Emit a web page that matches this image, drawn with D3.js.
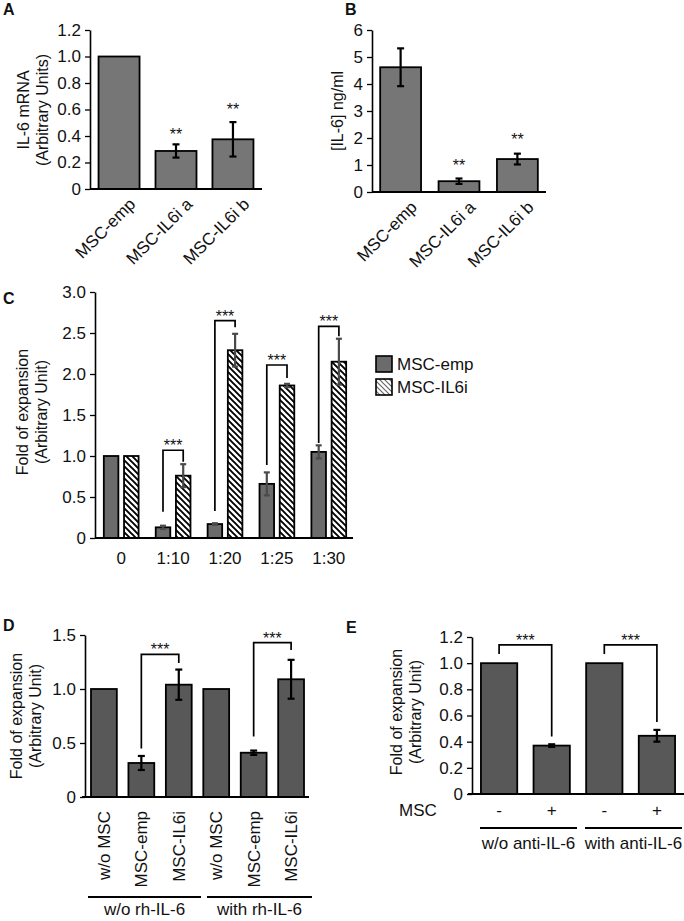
<!DOCTYPE html>
<html><head><meta charset="utf-8">
<script src="https://cdn.jsdelivr.net/npm/d3@7"></script>
<style>
body{margin:0;background:#fff;}
text{font-family:"Liberation Sans",Arial,sans-serif;fill:#111;}
</style></head><body>
<svg id="c" width="684" height="921"></svg>
<script>
// ---------- DATA ----------
// Panel A
const aCats = ["MSC-emp","MSC-IL6i a","MSC-IL6i b"];
const aVals = [1.0, 0.287, 0.375];
const aErr  = [0.0, 0.05, 0.13];
const aStars = [null, 0.43, 0.62];
const aTicks = [0,0.2,0.4,0.6,0.8,1.0,1.2];
// Panel B
const bCats = ["MSC-emp","MSC-IL6i a","MSC-IL6i b"];
const bVals = [4.62, 0.40, 1.22];
const bErr  = [0.70, 0.10, 0.20];
const bStars = [null, 1.07, 2.04];
const bTicks = [0,1,2,3,4,5,6];
// Panel C
const cGroups = ["0","1:10","1:20","1:25","1:30"];
const cSeries = ["MSC-emp","MSC-IL6i"];
const cEmp    = [1.0, 0.13, 0.17, 0.66, 1.05];
const cEmpErr = [0.0, 0.02, 0.01, 0.14, 0.08];
const cIL6    = [1.0, 0.76, 2.29, 1.86, 2.15];
const cIL6Err = [0.0, 0.14, 0.20, 0.02, 0.28];
const cTicks = [0,0.5,1.0,1.5,2.0,2.5,3.0];
// brackets: group, top, left-leg end, right-leg end
const cBrGroup = ["1:10","1:20","1:25","1:30"];
const cBrTop   = [1.07, 2.65, 2.11, 2.58];
const cBrLeft  = [0.32, 0.33, 0.89, 1.16];
const cBrRight = [0.93, 2.57, 1.95, 2.46];
// Panel D
const dCats = ["w/o MSC","MSC-emp","MSC-IL6i","w/o MSC ","MSC-emp ","MSC-IL6i "];
const dVals = [1.0, 0.315, 1.04, 1.0, 0.41, 1.09];
const dErr  = [0.0, 0.065, 0.14, 0.0, 0.02, 0.18];
const dTicks = [0,0.5,1.0,1.5];
const dGroupLabels = ["w/o rh-IL-6","with rh-IL-6"];
const dBrFrom = [1,4], dBrTo = [2,5];
const dBrTop = [1.32,1.43], dBrLeft=[0.45,0.56], dBrRight=[1.24,1.36];
// Panel E
const eCats = ["-","+","- ","+ "];
const eVals = [1.0, 0.37, 1.0, 0.445];
const eErr  = [0.0, 0.01, 0.0, 0.045];
const eTicks = [0,0.2,0.4,0.6,0.8,1.0,1.2];
const eGroupLabels = ["w/o anti-IL-6","with anti-IL-6"];
const eBrFrom=[0,2], eBrTo=[1,3];
const eBrTop=[1.14,1.14], eBrLeft=[1.07,1.07], eBrRight=[0.44,0.55];

// ---------- DRAW ----------
const svg = d3.select("#c");
const defs = svg.append("defs");
defs.append("pattern").attr("id","hatch").attr("patternUnits","userSpaceOnUse")
  .attr("width",6).attr("height",6)
  .append("path").attr("d","M-1,-1L7,7M-1,5L1,7M5,-1L7,1")
  .attr("stroke","#000").attr("stroke-width",1.9);
defs.append("pattern").attr("id","hatchL").attr("patternUnits","userSpaceOnUse")
  .attr("width",5).attr("height",5)
  .append("path").attr("d","M-1,-1L6,6M-1,4L1,6M4,-1L6,1")
  .attr("stroke","#666").attr("stroke-width",1.2);

const TF = 17;   // tick font
const LF = 17;   // label font
const TT = 16;   // axis title font
const SF = 16;   // asterisk font

function fmt1(v){return v===0?"0":d3.format(".1f")(v);}

function yAxis(g, y, ticks, fmt, fs){
  const ax = d3.axisLeft(y).tickValues(ticks).tickFormat(fmt).tickSize(5).tickSizeOuter(0).tickPadding(4);
  g.call(ax);
  g.select(".domain").attr("stroke","#000").attr("stroke-width",1.6);
  g.selectAll(".tick line").attr("stroke","#000").attr("stroke-width",1.3);
  g.selectAll(".tick text").style("font-size",fs+"px").style("font-family","Liberation Sans, Arial, sans-serif").attr("fill","#111");
}
function xLine(x0,x1,y){
  svg.append("line").attr("x1",x0).attr("x2",x1).attr("y1",y).attr("y2",y).attr("stroke","#000").attr("stroke-width",2);
}
function errBars(g, xs, vals, errs, y, color, cap){
  vals.forEach((v,i)=>{
    if(!errs[i]) return;
    const cx = xs[i], t=y(v+errs[i]), b=y(v-errs[i]);
    g.append("line").attr("x1",cx).attr("x2",cx).attr("y1",t).attr("y2",b).attr("stroke",color).attr("stroke-width",2.2);
    [t,b].forEach(yy=>g.append("line").attr("x1",cx-cap).attr("x2",cx+cap).attr("y1",yy).attr("y2",yy).attr("stroke",color).attr("stroke-width",2.2));
  });
}
function bracket(x1,x2,yTop,yL,yR,label,fs){
  svg.append("path").attr("d",`M${x1},${yL}V${yTop}H${x2}V${yR}`).attr("fill","none").attr("stroke","#000").attr("stroke-width",1.7);
  svg.append("text").attr("x",(x1+x2)/2).attr("y",yTop+1).attr("text-anchor","middle").style("font-size",fs+"px").text(label);
}
function title2(x,y,l1,l2,fs,gap){
  const t = svg.append("text").attr("transform",`translate(${x},${y}) rotate(-90)`).attr("text-anchor","middle").style("font-size",fs+"px");
  t.append("tspan").attr("x",0).attr("dy",0).text(l1);
  if(l2) t.append("tspan").attr("x",0).attr("dy",gap).text(l2);
}
function letter(x,y,s){svg.append("text").attr("x",x).attr("y",y).style("font-size","16px").style("font-weight","bold").text(s);}

// ===== Panel A =====
{
  const y = d3.scaleLinear().domain([0,1.2]).range([189,30]);
  const x = d3.scaleBand().domain(aCats).range([90,262]).paddingInner(0.28).paddingOuter(0.15);
  const g = svg.append("g");
  g.selectAll("rect").data(aVals).join("rect")
    .attr("x",(d,i)=>x(aCats[i])).attr("width",x.bandwidth())
    .attr("y",d=>y(d)).attr("height",d=>y(0)-y(d))
    .attr("fill","#767676").attr("stroke","#000").attr("stroke-width",1.8);
  const xs = aCats.map(c=>x(c)+x.bandwidth()/2);
  errBars(g,xs,aVals,aErr,y,"#000",3.5);
  aStars.forEach((s,i)=>{ if(s!==null) svg.append("text").attr("x",xs[i]).attr("y",y(s)+8).attr("text-anchor","middle").style("font-size",SF+"px").text("**");});
  xLine(90,262,189);
  yAxis(svg.append("g").attr("transform","translate(90,0)"), y, aTicks, fmt1, TF);
  aCats.forEach((c,i)=>svg.append("text").attr("transform",`translate(${xs[i]+9},${197}) rotate(-45)`).attr("text-anchor","end").attr("dy","0.7em").style("font-size",LF+"px").text(c));
  title2(29,110,"IL-6 mRNA","(Arbitrary Units)",TT,19);
  letter(3,15,"A");
}
// ===== Panel B =====
{
  const y = d3.scaleLinear().domain([0,6]).range([192,30]);
  const x = d3.scaleBand().domain(bCats).range([372,546]).paddingInner(0.3).paddingOuter(0.14);
  const g = svg.append("g");
  g.selectAll("rect").data(bVals).join("rect")
    .attr("x",(d,i)=>x(bCats[i])).attr("width",x.bandwidth())
    .attr("y",d=>y(d)).attr("height",d=>y(0)-y(d))
    .attr("fill","#767676").attr("stroke","#000").attr("stroke-width",1.8);
  const xs = bCats.map(c=>x(c)+x.bandwidth()/2);
  errBars(g,xs,bVals,bErr,y,"#000",3.5);
  bStars.forEach((s,i)=>{ if(s!==null) svg.append("text").attr("x",xs[i]).attr("y",y(s)+8).attr("text-anchor","middle").style("font-size",SF+"px").text("**");});
  xLine(372,546,192);
  yAxis(svg.append("g").attr("transform","translate(372,0)"), y, bTicks, d3.format("d"), TF);
  bCats.forEach((c,i)=>svg.append("text").attr("transform",`translate(${xs[i]+9},${200}) rotate(-45)`).attr("text-anchor","end").attr("dy","0.7em").style("font-size",LF+"px").text(c));
  title2(343,111,"[IL-6] ng/ml",null,TT,0);
  letter(345,15,"B");
}
// ===== Panel C =====
{
  const y = d3.scaleLinear().domain([0,3]).range([538,292]);
  const x0 = d3.scaleBand().domain(cGroups).range([95,355]).paddingInner(0.33).paddingOuter(0.17);
  const x1 = d3.scaleBand().domain(cSeries).range([0,x0.bandwidth()]).paddingInner(0.28);
  const g = svg.append("g");
  const series = [[cEmp,cEmpErr,"#6b6b6b"],[cIL6,cIL6Err,"url(#hatch)"]];
  series.forEach(([vals,errs,fill],si)=>{
    const xs = cGroups.map(gr=>x0(gr)+x1(cSeries[si]));
    g.selectAll(null).data(vals).join("rect")
      .attr("x",(d,i)=>xs[i]).attr("width",x1.bandwidth())
      .attr("y",d=>y(d)).attr("height",d=>y(0)-y(d))
      .attr("fill",fill).attr("stroke","#000").attr("stroke-width",1.8);
  });
  series.forEach(([vals,errs],si)=>{
    const xs = cGroups.map(gr=>x0(gr)+x1(cSeries[si])+x1.bandwidth()/2);
    errBars(g,xs,vals,errs,y,"#4a4a4a",3);
  });
  cBrGroup.forEach((gr,i)=>{
    const xl = x0(gr)+x1(cSeries[0])+x1.bandwidth()/2;
    const xr = x0(gr)+x1(cSeries[1])+x1.bandwidth()/2;
    bracket(xl,xr,y(cBrTop[i]),y(cBrLeft[i]),y(cBrRight[i]),"***",SF);
  });
  xLine(95,353,538);
  yAxis(svg.append("g").attr("transform","translate(95,0)"), y, cTicks, fmt1, TF);
  cGroups.forEach(gr=>svg.append("text").attr("x",x0(gr)+x0.bandwidth()/2).attr("y",564).attr("text-anchor","middle").style("font-size",LF+"px").text(gr));
  title2(28,412,"Fold of expansion","(Arbitrary Unit)",TT,19);
  letter(3,304,"C");
  // legend
  const lg = svg.append("g");
  cSeries.forEach((s,i)=>{
    lg.append("rect").attr("x",376).attr("y",356+i*23).attr("width",16).attr("height",16)
      .attr("fill",i===0?"#6b6b6b":"url(#hatchL)").attr("stroke","#000").attr("stroke-width",1.6);
    lg.append("text").attr("x",397).attr("y",370+i*23).style("font-size",LF+"px").text(s);
  });
}
// ===== Panel D =====
{
  const y = d3.scaleLinear().domain([0,1.5]).range([797,635]);
  const x = d3.scaleBand().domain(dCats).range([85,310]).paddingInner(0.31).paddingOuter(0.16);
  const g = svg.append("g");
  g.selectAll("rect").data(dVals).join("rect")
    .attr("x",(d,i)=>x(dCats[i])).attr("width",x.bandwidth())
    .attr("y",d=>y(d)).attr("height",d=>y(0)-y(d))
    .attr("fill","#585858").attr("stroke","#000").attr("stroke-width",1.8);
  const xs = dCats.map(c=>x(c)+x.bandwidth()/2);
  errBars(g,xs,dVals,dErr,y,"#000",3.5);
  dBrFrom.forEach((f,i)=>bracket(xs[f],xs[dBrTo[i]],y(dBrTop[i]),y(dBrLeft[i]),y(dBrRight[i]),"***",SF));
  xLine(82,309,797);
  yAxis(svg.append("g").attr("transform","translate(85,0)"), y, dTicks, fmt1, TF);
  dCats.forEach((c,i)=>svg.append("text").attr("transform",`translate(${xs[i]},811) rotate(-90)`).attr("text-anchor","end").attr("dy","0.36em").style("font-size",LF+"px").text(c.trim()));
  const grp = [[88,201],[207,312]];
  grp.forEach(([a,b],i)=>{
    svg.append("line").attr("x1",a).attr("x2",b).attr("y1",897).attr("y2",897).attr("stroke","#000").attr("stroke-width",2);
    svg.append("text").attr("x",(a+b)/2).attr("y",915).attr("text-anchor","middle").style("font-size",LF+"px").text(dGroupLabels[i]);
  });
  title2(22,716,"Fold of expansion","(Arbitrary Unit)",TT,19);
  letter(3,631,"D");
}
// ===== Panel E =====
{
  const y = d3.scaleLinear().domain([0,1.2]).range([794,637]);
  const x = d3.scaleBand().domain(eCats).range([472,684]).paddingInner(0.31).paddingOuter(0.17);
  const g = svg.append("g");
  g.selectAll("rect").data(eVals).join("rect")
    .attr("x",(d,i)=>x(eCats[i])).attr("width",x.bandwidth())
    .attr("y",d=>y(d)).attr("height",d=>y(0)-y(d))
    .attr("fill","#585858").attr("stroke","#000").attr("stroke-width",1.8);
  const xs = eCats.map(c=>x(c)+x.bandwidth()/2);
  errBars(g,xs,eVals,eErr,y,"#000",3.5);
  eBrFrom.forEach((f,i)=>bracket(xs[f],xs[eBrTo[i]],y(eBrTop[i]),y(eBrLeft[i]),y(eBrRight[i]),"***",SF));
  xLine(468,684,794);
  yAxis(svg.append("g").attr("transform","translate(472,0)"), y, eTicks, fmt1, TF);
  svg.append("text").attr("x",418).attr("y",816).attr("text-anchor","middle").style("font-size",LF+"px").text("MSC");
  eCats.forEach((c,i)=>svg.append("text").attr("x",xs[i]).attr("y",816).attr("text-anchor","middle").style("font-size",LF+"px").text(c.trim()));
  const grp = [[480,577],[585,682]];
  grp.forEach(([a,b],i)=>{
    svg.append("line").attr("x1",a).attr("x2",b).attr("y1",828).attr("y2",828).attr("stroke","#000").attr("stroke-width",2);
    svg.append("text").attr("x",(a+b)/2).attr("y",849).attr("text-anchor","middle").style("font-size",LF+"px").text(eGroupLabels[i]);
  });
  title2(402,712,"Fold of expansion","(Arbitrary Unit)",TT,19);
  letter(346,633,"E");
}
</script></body></html>
